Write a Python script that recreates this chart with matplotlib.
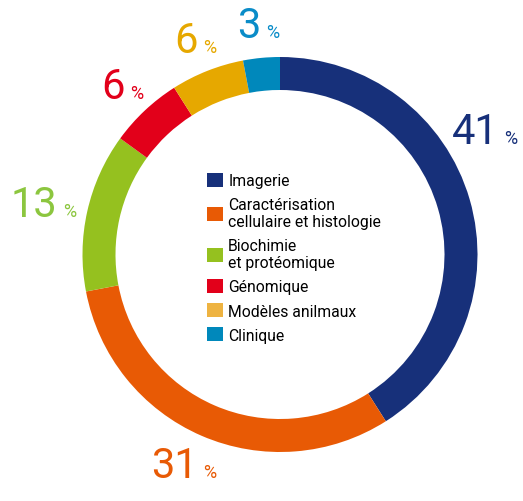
import numpy as np
import matplotlib
matplotlib.use('Agg')
import matplotlib.pyplot as plt
from matplotlib.patches import Patch
from matplotlib.offsetbox import TextArea, HPacker, AnnotationBbox

plt.rcParams['font.family'] = ['Roboto', 'DejaVu Sans']

categories = ['Imagerie', 'Caractérisation\ncellulaire et histologie', 'Biochimie\net protéomique',
              'Génomique', 'Modèles anilmaux', 'Clinique']
shares = [41, 31, 13, 6, 6, 3]
ring_colors = ['#17307a', '#e85a05', '#95c11f', '#e2001a', '#e6a800', '#0088bb']
legend_colors = ['#17307a', '#e85a05', '#95c11f', '#e2001a', '#eeb341', '#0088bb']
label_colors = ['#17307a', '#e85a05', '#8cc63f', '#e2001a', '#e6a800', '#0a8cc8']

W, H = 523, 502
cx, cy = 280, H - 255.5
R, ring_w = 197.5, 33

fig = plt.figure(figsize=(W / 100, H / 100), dpi=100)
ax = fig.add_axes([0, 0, 1, 1])

wedges, _ = ax.pie(shares, colors=ring_colors, startangle=90, counterclock=False,
                   radius=R, center=(cx, cy), frame=True,
                   wedgeprops=dict(width=ring_w, linewidth=0))
ax.set_xlim(0, W)
ax.set_ylim(0, H)
ax.set_aspect('equal')
ax.axis('off')

fig.canvas.draw()
renderer = fig.canvas.get_renderer()


def place_label(ang_deg, box):
    a = np.deg2rad(ang_deg)
    c, s = np.cos(a), np.sin(a)
    return AnnotationBbox(box, (cx + (R + 12) * c, cy + (R + 12) * s), frameon=False,
                          box_alignment=(0.5 - 0.5 * c, 0.5 - 0.5 * s), pad=0)


# percentage labels outside each wedge; slide toward the top if one falls off the figure
for w, val, col in zip(wedges, shares, label_colors):
    num = TextArea(str(val), textprops=dict(color=col, fontsize=30))
    pct = TextArea('%', textprops=dict(color=col, fontsize=13))
    box = HPacker(children=[num, pct], align='baseline', pad=0, sep=4)
    ang = (w.theta1 + w.theta2) / 2
    ab = place_label(ang, box)
    ax.add_artist(ab)
    bb = ab.get_window_extent(renderer)
    while (bb.x1 > W - 1 or bb.x0 < 1) and ang < w.theta2:
        ab.remove()
        ang += 2
        ab = place_label(ang, box)
        ax.add_artist(ab)
        bb = ab.get_window_extent(renderer)

handles = [Patch(facecolor=c, edgecolor='none') for c in legend_colors]
ax.legend(handles, categories, loc='upper left', bbox_to_anchor=(207 / W, 1 - 174 / H),
          frameon=False, fontsize=11.3, handlelength=1.0, handleheight=1.0,
          handletextpad=0.35, labelspacing=0.55, borderpad=0, borderaxespad=0)

fig.savefig('out.png', dpi=100)
